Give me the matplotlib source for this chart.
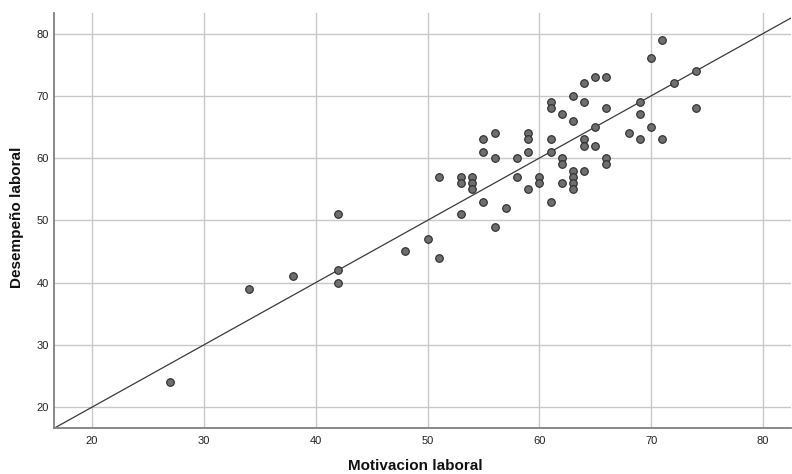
import matplotlib
matplotlib.use("Agg")
import matplotlib.pyplot as plt
import numpy as np

plt.rcParams['font.family'] = ['Liberation Sans', 'DejaVu Sans']

motivacion = [27, 34, 38, 42, 42, 42, 48, 50, 51, 51,
              53, 53, 53, 54, 54, 54, 55, 55, 55, 56, 56, 56,
              57, 58, 58, 59, 59, 59, 59, 60, 60,
              61, 61, 61, 61, 61, 62, 62, 62, 62,
              63, 63, 63, 63, 63, 63, 64, 64, 64, 64, 64,
              65, 65, 65, 66, 66, 66, 66, 68, 69, 69, 69,
              70, 70, 71, 71, 72, 74, 74]
desempeno = [24, 39, 41, 51, 42, 40, 45, 47, 44, 57,
             57, 56, 51, 57, 56, 55, 63, 61, 53, 64, 60, 49,
             52, 60, 57, 64, 63, 61, 55, 57, 56,
             69, 68, 63, 61, 53, 67, 60, 59, 56,
             70, 66, 58, 57, 56, 55, 72, 69, 63, 62, 58,
             73, 65, 62, 73, 68, 60, 59, 64, 69, 67, 63,
             76, 65, 79, 63, 72, 74, 68]

x_ticks = [20, 30, 40, 50, 60, 70, 80]
y_ticks = [20, 30, 40, 50, 60, 70, 80]
x_label = "Motivacion laboral"
y_label = "Desempeño laboral"

fig = plt.figure(figsize=(7.92, 4.74), dpi=100)
W, H = 792, 474
ax = fig.add_axes([54 / W, 1 - 427.7 / H, (791 - 54) / W, (427.7 - 13) / H])

xmin, xmax = 16.6, 82.5
ymin, ymax = 16.7, 83.3
ax.set_xlim(xmin, xmax)
ax.set_ylim(ymin, ymax)

ax.set_xticks(x_ticks)
ax.set_yticks(y_ticks)
ax.grid(True, color='#c8c8c8', linewidth=1.0)
ax.set_axisbelow(True)

# reference line y = x
ref = np.array([min(xmin, ymin), max(xmax, ymax)])
ax.plot(ref, ref, color='#3a3a3a', linewidth=0.9, zorder=2)

ax.scatter(motivacion, desempeno, s=30, facecolor='#6e6e6e', edgecolor='#2a2a2a',
           linewidth=0.8, zorder=3)

for s in ['top', 'right']:
    ax.spines[s].set_visible(False)
for s in ['left', 'bottom']:
    ax.spines[s].set_color('#808080')
    ax.spines[s].set_linewidth(1.3)

ax.tick_params(axis='x', length=0, labelsize=8, colors='#222222', pad=6)
ax.tick_params(axis='y', length=0, labelsize=8, colors='#222222', pad=3.5)

fig.text(415 / W, 1 - 466 / H, x_label, ha='center', va='center',
         fontsize=11, fontweight='bold', color='#111111')
fig.text(17 / W, 1 - 217 / H, y_label, ha='center', va='center', rotation=90,
         fontsize=11, fontweight='bold', color='#111111')

fig.savefig("out.png", dpi=100)
